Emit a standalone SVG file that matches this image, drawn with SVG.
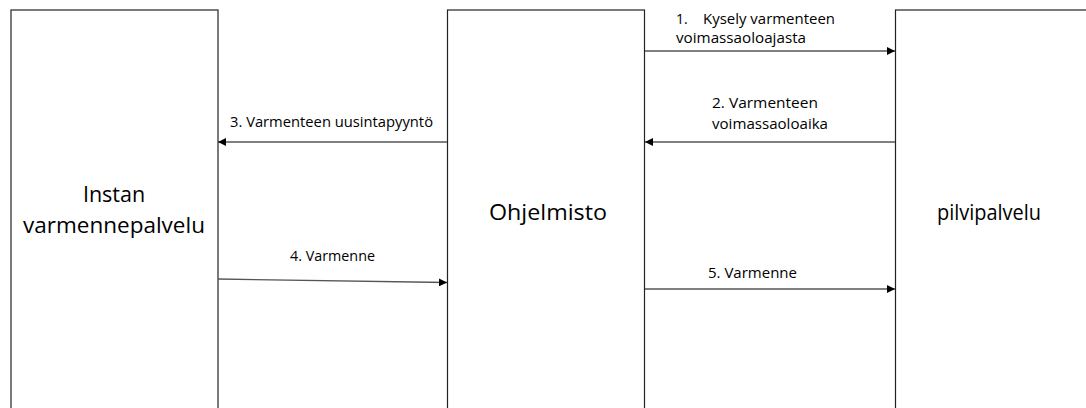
<svg xmlns="http://www.w3.org/2000/svg" width="1086" height="408" viewBox="0 0 1086 408">
  <style>
    .box { fill: #ffffff; stroke: #222222; stroke-width: 1.2; }
    .lbl { font-family: "Open Sans", "Liberation Sans", sans-serif; font-size: 21.5px; fill: #000000; text-anchor: middle; }
    .msg { font-family: "Open Sans", "Liberation Sans", sans-serif; font-size: 14px; fill: #000000; }
    .conn { stroke: #555555; stroke-width: 1.3; fill: none; marker-end: url(#arrow); }
  </style>
  <defs>
    <marker id="arrow" viewBox="0 0 10 10" refX="10" refY="5" markerWidth="8" markerHeight="8" markerUnits="userSpaceOnUse" orient="auto">
      <path d="M0,0 L10,5 L0,10 z" fill="#000000"/>
    </marker>
  </defs>
  <rect width="1086" height="408" fill="#ffffff"/>

  <g id="node-instan">
    <rect class="box" x="11" y="10" width="207" height="420"/>
    <text class="lbl" x="114" y="202">Instan</text>
    <text class="lbl" x="114" y="233" textLength="182" lengthAdjust="spacingAndGlyphs">varmennepalvelu</text>
  </g>

  <g id="node-ohjelmisto">
    <rect class="box" x="447.5" y="10" width="197" height="420"/>
    <text class="lbl" x="548" y="220" textLength="118" lengthAdjust="spacingAndGlyphs">Ohjelmisto</text>
  </g>

  <g id="node-pilvipalvelu">
    <rect class="box" x="895.5" y="10" width="220" height="420"/>
    <text class="lbl" x="989" y="220" textLength="104" lengthAdjust="spacingAndGlyphs">pilvipalvelu</text>
  </g>

  <g id="connectors">
    <line class="conn" x1="645" y1="51" x2="895" y2="51"/>
    <line class="conn" x1="895" y1="142" x2="645" y2="142"/>
    <line class="conn" x1="447" y1="142" x2="218" y2="142"/>
    <line class="conn" x1="218" y1="279" x2="447" y2="282.5"/>
    <line class="conn" x1="645" y1="289" x2="895" y2="289"/>
  </g>

  <g id="labels">
    <text class="msg" x="676" y="24">1.</text>
    <text class="msg" x="703" y="24" textLength="132" lengthAdjust="spacingAndGlyphs">Kysely varmenteen</text>
    <text class="msg" x="676" y="43" textLength="130" lengthAdjust="spacingAndGlyphs">voimassaoloajasta</text>
    <text class="msg" x="712" y="108" textLength="106" lengthAdjust="spacingAndGlyphs">2. Varmenteen</text>
    <text class="msg" x="712" y="129" textLength="116" lengthAdjust="spacingAndGlyphs">voimassaoloaika</text>
    <text class="msg" x="230" y="127" textLength="203" lengthAdjust="spacingAndGlyphs">3. Varmenteen uusintapyyntö</text>
    <text class="msg" x="290" y="261" textLength="85" lengthAdjust="spacingAndGlyphs">4. Varmenne</text>
    <text class="msg" x="708" y="278" textLength="89" lengthAdjust="spacingAndGlyphs">5. Varmenne</text>
  </g>
</svg>
